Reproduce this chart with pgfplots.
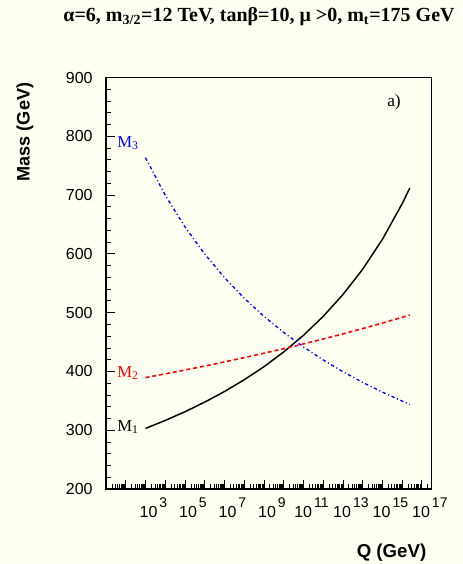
\documentclass[border=0pt]{standalone}
\usepackage{fontspec}
\setmainfont{Liberation Sans}
\newfontfamily\timesfont{Liberation Serif}
\usepackage{pgfplots}
\pgfplotsset{compat=1.18}
\definecolor{bg}{RGB}{255,255,242}
\definecolor{mred}{RGB}{255,0,0}
\definecolor{mblue}{RGB}{0,0,255}

\def\minorlist{}
\foreach \e in {1,...,16}{\foreach \m in {2,...,9}{\xdef\minorlist{\minorlist\m e\e,}}}
\xdef\minorlist{\minorlist 2e17,3e17}
\newcommand{\pw}[1]{10\hspace{1.5pt}\raisebox{7.6pt}{\fontsize{10.5}{12}\selectfont #1}}

\begin{document}
\begin{tikzpicture}[x=0.75pt,y=0.75pt]
\fill[bg] (0,0) rectangle (462,564);
\path[use as bounding box] (0,0) rectangle (462,564);
\begin{axis}[
  at={(79.5pt,56.25pt)}, anchor=south west,
  scale only axis, width=244.3pt, height=308.6pt,
  xmode=log, log basis x=10,
  xmin=10, xmax=3.16e17, ymin=200, ymax=900,
  xtick={1e1,1e2,1e3,1e4,1e5,1e6,1e7,1e8,1e9,1e10,1e11,1e12,1e13,1e14,1e15,1e16,1e17},
  xticklabels={,,\pw{3},,\pw{5},,\pw{7},,\pw{9},,\pw{11},,\pw{13},,\pw{15},,\pw{17}},
  minor xtick/.expanded={\minorlist},
  ytick={200,300,400,500,600,700,800,900},
  minor y tick num=4,
  xtick pos=bottom, ytick pos=left,
  tick align=inside,
  major tick length=7pt, minor tick length=3.5pt,
  every tick/.style={black, line width=0.6pt},
  axis line style={line width=0.8pt},
  xticklabel style={font=\fontsize{12}{14}\selectfont, yshift=-2.8pt, xshift=6pt},
  yticklabel style={font=\fontsize{12}{14}\selectfont, xshift=-6.5pt},
  /pgf/number format/assume math mode=true,
  clip=true,
]
% M1
\addplot[black, line width=1.1pt] coordinates {
 (1e3,303) (1e4,316.6) (1e5,331.4) (1e6,347.8) (1e7,365.8) (1e8,385.8)
 (1e9,408.0) (1e10,433.1) (1e11,461.4) (1e12,493.6) (1e13,530.7)
 (1e14,573.8) (1e15,624.6) (1e16,685.2) (2.45e16,712)
};
% M2
\addplot[mred, line width=1.2pt, dash pattern=on 3pt off 2.2pt] coordinates {
 (1e3,389.5) (1e4,395.9) (1e5,402.4) (1e6,409.2) (1e7,416.2) (1e8,423.5)
 (1e9,431.0) (1e10,438.7) (1e11,446.8) (1e12,455.2) (1e13,463.9)
 (1e14,472.9) (1e15,482.3) (1e16,492.1) (2.45e16,496)
};
% M3
\addplot[mblue, line width=1.0pt, dash pattern=on 2.5pt off 2pt on 0.8pt off 2pt] coordinates {
 (1e3,763.6) (1e4,699.8) (1e5,645.9) (1e6,599.7) (1e7,559.7) (1e8,524.6)
 (1e9,493.7) (1e10,466.3) (1e11,441.7) (1e12,419.6) (1e13,399.6)
 (1e14,381.4) (1e15,364.8) (1e16,349.6) (2.45e16,344)
};
\end{axis}
\node[font=\timesfont\bfseries\fontsize{15}{18}\selectfont] at (259,547)
  {α=6, m\textsubscript{3/2}=12 TeV, tanβ=10, μ >0, m\textsubscript{t}=175 GeV};
\node[rotate=90, anchor=east, font=\bfseries\fontsize{13.6}{16}\selectfont] at (25,486) {Mass (GeV)};
\node[anchor=east, font=\bfseries\fontsize{14}{16}\selectfont] at (431,11) {Q (GeV)};
\node[anchor=west, text=mblue, font=\timesfont\fontsize{12.5}{15}\selectfont, inner sep=0pt] at (117,421) {M\textsubscript{3}};
\node[anchor=west, text=mred, font=\timesfont\fontsize{12.5}{15}\selectfont, inner sep=0pt] at (117,191) {M\textsubscript{2}};
\node[anchor=west, text=black, font=\timesfont\fontsize{12.5}{15}\selectfont, inner sep=0pt] at (117,137) {M\textsubscript{1}};
\node[font=\timesfont\fontsize{13}{15}\selectfont] at (394,461.5) {a)};
\end{tikzpicture}
\end{document}
